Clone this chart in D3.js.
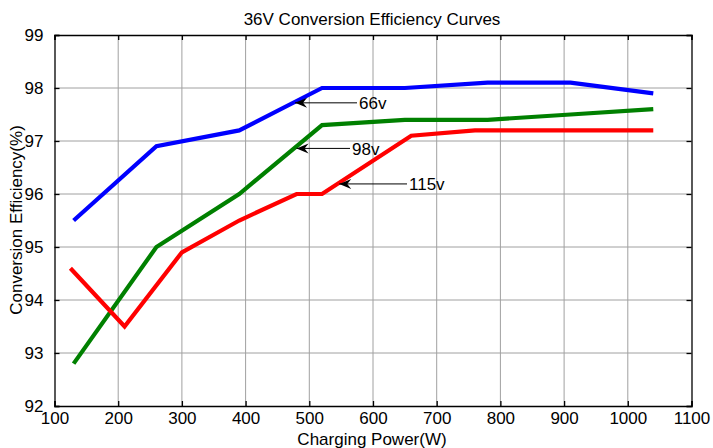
<!DOCTYPE html>
<html><head><meta charset="utf-8">
<script src="https://cdn.jsdelivr.net/npm/d3@7"></script>
<style>body{margin:0;background:#fff;} svg{display:block;font-family:"Liberation Sans",Arial,sans-serif;}</style>
</head><body>
<svg id="c" width="713" height="448"></svg>
<script>
const xTicks = [100,200,300,400,500,600,700,800,900,1000,1100];
const yTicks = [92,93,94,95,96,97,98,99];
const power66 = [130,260,390,520,650,780,910,1040];
const eff66   = [95.5,96.9,97.2,98.0,98.0,98.1,98.1,97.9];
const power98 = [130,260,390,520,650,780,910,1040];
const eff98   = [92.8,95.0,96.0,97.3,97.4,97.4,97.5,97.6];
const power115 = [125,210,300,390,480,520,660,760,1040];
const eff115   = [94.6,93.5,94.9,95.5,96.0,96.0,97.1,97.2,97.2];
const labels = [
  {text:"66v", px:477.6, py:97.72, tx:359},
  {text:"98v", px:480, py:96.86, tx:352},
  {text:"115v", px:547, py:96.19, tx:409}
];

const svg = d3.select("#c");
const L=54.5, R=691.5, T=35, B=406;
const x = d3.scaleLinear().domain([100,1100]).range([L,R]);
const y = d3.scaleLinear().domain([92,99]).range([B,T]);
const FS = 17;

// grid
const g = svg.append("g");
g.selectAll("line.vx").data(xTicks.slice(1,-1)).enter().append("line")
  .attr("x1",d=>x(d)).attr("x2",d=>x(d)).attr("y1",T).attr("y2",B)
  .attr("stroke","#a0a0a0").attr("stroke-width",1);
g.selectAll("line.hy").data(yTicks.slice(1,-1)).enter().append("line")
  .attr("x1",L).attr("x2",R).attr("y1",d=>y(d)).attr("y2",d=>y(d))
  .attr("stroke","#a0a0a0").attr("stroke-width",1);

// axes
const ax = svg.append("g").attr("transform",`translate(0,${B})`)
  .call(d3.axisBottom(x).tickValues(xTicks).tickSize(-5).tickPadding(6).tickFormat(d3.format("d")));
const axT = svg.append("g").attr("transform",`translate(0,${T})`)
  .call(d3.axisTop(x).tickValues(xTicks).tickSize(-5).tickFormat(""));
const ay = svg.append("g").attr("transform",`translate(${L},0)`)
  .call(d3.axisLeft(y).tickValues(yTicks).tickSize(-5).tickPadding(11).tickFormat(d3.format("d")));
const ayR = svg.append("g").attr("transform",`translate(${R},0)`)
  .call(d3.axisRight(y).tickValues(yTicks).tickSize(-5).tickFormat(""));
[ax,axT,ay,ayR].forEach(a=>{
  a.selectAll("path,line").attr("stroke","#000").attr("stroke-width",1.3);
  a.selectAll("text").attr("font-size",FS).attr("fill","#000").attr("font-family","Liberation Sans, Arial, sans-serif");
});

// lines
const line = d3.line().x(d=>x(d[0])).y(d=>y(d[1]));
const series = [
  {px:power66, ey:eff66, c:"#0000ff"},
  {px:power98, ey:eff98, c:"#008000"},
  {px:power115, ey:eff115, c:"#ff0000"}
];
series.forEach(s=>{
  svg.append("path").datum(s.px.map((p,i)=>[p,s.ey[i]]))
    .attr("d",line).attr("fill","none").attr("stroke",s.c).attr("stroke-width",4.2)
    .attr("stroke-linejoin","miter");
});

// annotations
labels.forEach(l=>{
  const ax0 = x(l.px), ay0 = y(l.py);
  svg.append("line").attr("x1",ax0).attr("x2",l.tx-2).attr("y1",ay0).attr("y2",ay0)
    .attr("stroke","#000").attr("stroke-width",1);
  svg.append("path")
    .attr("d",`M${ax0},${ay0} L${ax0+12},${ay0-5} L${ax0+8},${ay0} L${ax0+12},${ay0+5} Z`)
    .attr("fill","#000");
  svg.append("text").attr("x",l.tx).attr("y",ay0).attr("dy","0.38em")
    .attr("font-size",FS).text(l.text);
});

svg.append("text").attr("x",372).attr("y",25).attr("text-anchor","middle")
  .attr("font-size",FS).text("36V Conversion Efficiency Curves");
svg.append("text").attr("x",372).attr("y",445).attr("text-anchor","middle")
  .attr("font-size",FS).text("Charging Power(W)");
svg.append("text").attr("transform","translate(22,220) rotate(-90)").attr("text-anchor","middle")
  .attr("font-size",FS).text("Conversion Efficiency(%)");
</script>
</body></html>
